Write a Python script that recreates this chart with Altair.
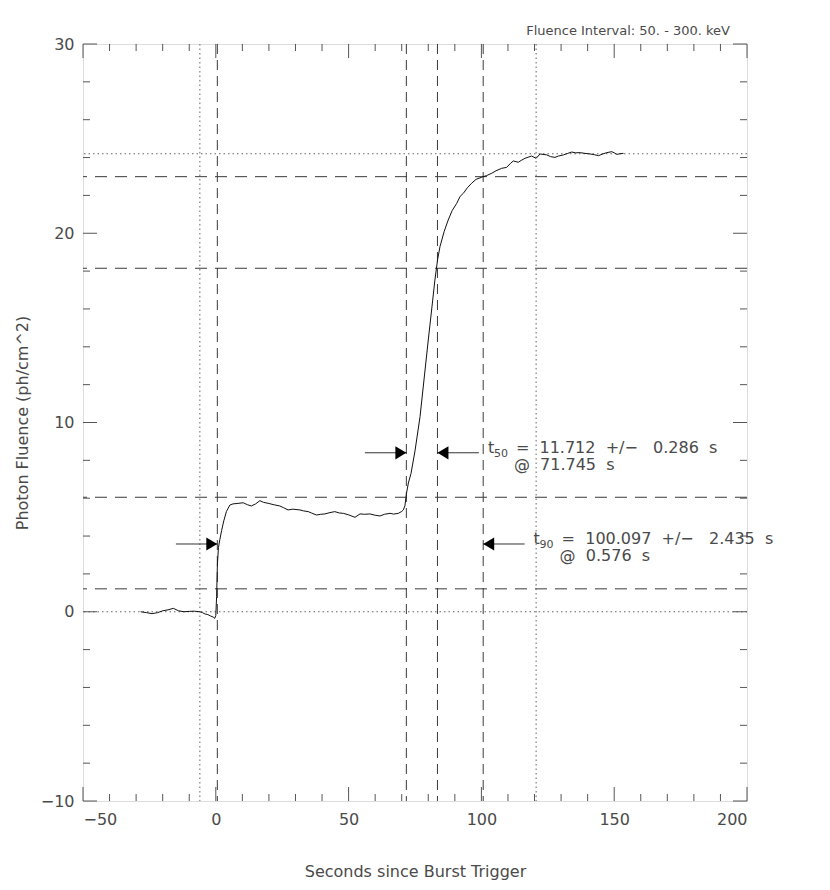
import altair as alt
import pandas as pd

# ---------------- data ----------------
time_s = [-28.3, -26, -24, -22, -20, -18, -16, -14, -12, -10, -8, -6, -5, -4, -3, -2, -1, -0.4,
          0.0, 0.3, 0.6, 1.0, 1.5, 2.2, 3.0, 4.0, 5.3, 6.5, 8, 10.3, 12, 13.4, 15, 16.6, 18, 19.7,
          22, 24.1, 25.5, 27.2, 29, 31.7, 33, 34.8, 36, 37.9, 39.5, 41.1, 43, 44.8, 46.5, 48, 50,
          52.4, 54.3, 56, 58, 60, 61.8, 63.5, 65.6, 67, 68.7, 70.0, 70.6, 71.2, 71.8, 72.5, 73.5,
          75, 76.9, 78.5, 80.0, 81.3, 82.5, 83.5, 84.4, 86, 87.5, 89, 90.7, 92, 93.2, 94.7, 96.3,
          98, 100.1, 102, 103.9, 105.5, 107.6, 109.5, 111, 112, 113.9, 115, 116.4, 118.9, 120.6,
          122.1, 124.6, 126, 127.7, 129, 130.9, 132.5, 134, 135.5, 137.2, 139, 140.9, 142.5,
          144.1, 145.5, 147.2, 149.1, 150, 151, 152.2, 153.5]
fluence = [0.0, -0.05, -0.1, -0.05, 0.05, 0.1, 0.18, 0.05, 0.0, 0.02, 0.03, 0.0, -0.05, -0.12,
           -0.15, -0.22, -0.28, -0.35, -0.2, 0.8, 2.5, 3.4, 3.8, 4.3, 4.8, 5.3, 5.64, 5.7, 5.72,
           5.76, 5.65, 5.59, 5.7, 5.87, 5.78, 5.73, 5.65, 5.59, 5.5, 5.38, 5.42, 5.38, 5.33, 5.29,
           5.22, 5.11, 5.15, 5.17, 5.24, 5.29, 5.22, 5.2, 5.12, 4.99, 5.17, 5.15, 5.17, 5.1, 5.06,
           5.15, 5.2, 5.16, 5.2, 5.3, 5.38, 5.6, 6.26, 6.8, 7.31, 8.5, 10.31, 12.4, 14.36, 16.0,
           17.53, 18.6, 19.29, 20.1, 20.7, 21.2, 21.58, 21.95, 22.11, 22.4, 22.64, 22.85, 22.96,
           23.05, 23.17, 23.3, 23.43, 23.48, 23.7, 23.82, 23.75, 23.85, 23.96, 24.08, 23.96,
           24.19, 24.14, 24.05, 24.01, 24.08, 24.14, 24.22, 24.29, 24.25, 24.26, 24.22, 24.19,
           24.15, 24.1, 24.18, 24.26, 24.31, 24.25, 24.17, 24.2, 24.22]

x_major = [-50, 0, 50, 100, 150, 200]
x_minor = [-40, -30, -20, -10, 10, 20, 30, 40, 60, 70, 80, 90, 110, 120, 130, 140,
           160, 170, 180, 190]
y_major = [-10, 0, 10, 20, 30]
y_minor = [-8, -6, -4, -2, 2, 4, 6, 8, 12, 14, 16, 18, 22, 24, 26, 28]

bg_levels = [0.0, 24.2]                    # dotted horizontal
pct_levels = [1.21, 6.05, 18.15, 22.99]    # dashed horizontal
bg_times = [-6.0, 120.6]                   # dotted vertical
t50_dur, t50_err, t50_start = 11.712, 0.286, 71.745
t90_dur, t90_err, t90_start = 100.097, 2.435, 0.576
interval_edges = [t90_start, t50_start, t50_start + t50_dur, t90_start + t90_dur]  # dashed vertical
arrow_level_t50 = 8.4
arrow_level_t90 = 3.58
arrow_len = 15.6
energy_label = "Fluence Interval: 50. - 300. keV"

# ---------------- styling ----------------
W, H = 664, 757
FONT = "DejaVu Sans"
TXT = "#4a4a4a"
AX = "#555555"
SP = "\u00a0"

XS = alt.Scale(domain=[-50, 200], nice=False, zero=False)
YS = alt.Scale(domain=[-10, 30], nice=False, zero=False)
XAX = alt.Axis(values=x_major, ticks=False, domain=False, grid=False, labelFont=FONT,
               labelFontSize=16, labelColor=TXT, labelPadding=10,
               title="Seconds since Burst Trigger", titleFont=FONT, titleFontSize=16,
               titleFontWeight="normal", titleColor=TXT, titleY=75, titleBaseline="alphabetic")
YAX = alt.Axis(values=y_major, ticks=False, domain=False, grid=False, labelFont=FONT,
               labelFontSize=16, labelColor=TXT, labelPadding=9,
               title="Photon Fluence (ph/cm^2)", titleFont=FONT, titleFontSize=16,
               titleFontWeight="normal", titleColor=TXT, titleX=-61, titleY=H / 2,
               titleAngle=270, titleAlign="center", titleBaseline="middle")


def X(f):
    return alt.X(f, type="quantitative", scale=XS, axis=XAX)


def Y(f):
    return alt.Y(f, type="quantitative", scale=YS, axis=YAX)


curve_df = pd.DataFrame({"t": time_s, "f": fluence})
curve = alt.Chart(curve_df).mark_line(color="#111111", strokeWidth=1).encode(x=X("t"), y=Y("f"))

hdot = alt.Chart(pd.DataFrame({"v": bg_levels})).mark_rule(
    color="#666666", strokeWidth=1, strokeDash=[1.5, 3]).encode(y=Y("v"))
hdash = alt.Chart(pd.DataFrame({"v": pct_levels})).mark_rule(
    color="#3a3a3a", strokeWidth=1, strokeDash=[12, 8]).encode(y=Y("v"))
vdot = alt.Chart(pd.DataFrame({"v": bg_times})).mark_rule(
    color="#666666", strokeWidth=1, strokeDash=[1.5, 3]).encode(x=X("v"))
vdash = alt.Chart(pd.DataFrame({"v": interval_edges})).mark_rule(
    color="#3a3a3a", strokeWidth=1, strokeDash=[10, 6]).encode(x=X("v"))

# inward ticks on all four sides
tick_layers = []
for vals, ln in ((y_major, 14), (y_minor, 7)):
    d = pd.DataFrame({"v": vals})
    tick_layers.append(alt.Chart(d).mark_rule(color=AX).encode(
        y=Y("v"), x=alt.value(0), x2=alt.value(ln)))
    tick_layers.append(alt.Chart(d).mark_rule(color=AX).encode(
        y=Y("v"), x=alt.value(W), x2=alt.value(W - ln)))
for vals, ln in ((x_major, 14), (x_minor, 7)):
    d = pd.DataFrame({"v": vals})
    tick_layers.append(alt.Chart(d).mark_rule(color=AX).encode(
        x=X("v"), y=alt.value(H), y2=alt.value(H - ln)))
    tick_layers.append(alt.Chart(d).mark_rule(color=AX).encode(
        x=X("v"), y=alt.value(0), y2=alt.value(ln)))

# arrows
t50_end = t50_start + t50_dur
t90_end = t90_start + t90_dur
shaft_df = pd.DataFrame({
    "a": [t50_start - arrow_len, t50_end, t90_start - arrow_len, t90_end],
    "b": [t50_start, t50_end + arrow_len, t90_start, t90_end + arrow_len],
    "y": [arrow_level_t50, arrow_level_t50, arrow_level_t90, arrow_level_t90],
})
shafts = alt.Chart(shaft_df).mark_rule(color="#333333", strokeWidth=1).encode(
    x=X("a"), x2="b", y=Y("y"))
right_heads = alt.Chart(pd.DataFrame({"x": [t50_start, t90_start],
                                      "y": [arrow_level_t50, arrow_level_t90]})).mark_point(
    shape="M0,0L-1,-0.6L-1,0.6Z", size=484, filled=True, color="#000000", opacity=1,
    strokeWidth=0).encode(x=X("x"), y=Y("y"))
left_heads = alt.Chart(pd.DataFrame({"x": [t50_end, t90_end],
                                     "y": [arrow_level_t50, arrow_level_t90]})).mark_point(
    shape="M0,0L1,-0.6L1,0.6Z", size=484, filled=True, color="#000000", opacity=1,
    strokeWidth=0).encode(x=X("x"), y=Y("y"))


def fmt_main(d, e):
    return f"={SP*2}{d:.3f}{SP*2}+/\u2212{SP*3}{e:.3f}{SP*2}s"


ann_df = pd.DataFrame({
    "x": [t50_end + arrow_len, t90_end + arrow_len],
    "y": [arrow_level_t50, arrow_level_t90],
    "t": ["t", "t"],
    "sub": ["50", "90"],
    "main": [fmt_main(t50_dur, t50_err), fmt_main(t90_dur, t90_err)],
    "at": [f"@{SP*2}{t50_start:.3f}{SP*2}s", f"@{SP*2}{t90_start:.3f}{SP*2}s"],
})
tbase = alt.Chart(ann_df)
txt_t = tbase.mark_text(align="left", baseline="alphabetic", font=FONT, fontSize=16,
                        color=TXT, dx=9).encode(x=X("x"), y=Y("y"), text="t")
txt_sub = tbase.mark_text(align="left", baseline="alphabetic", font=FONT, fontSize=11,
                          color=TXT, dx=15, dy=4).encode(x=X("x"), y=Y("y"), text="sub")
txt_main = tbase.mark_text(align="left", baseline="alphabetic", font=FONT, fontSize=16,
                           color=TXT, dx=37).encode(x=X("x"), y=Y("y"), text="main")
txt_at = tbase.mark_text(align="left", baseline="alphabetic", font=FONT, fontSize=16,
                         color=TXT, dx=35, dy=17).encode(x=X("x"), y=Y("y"), text="at")

energy = alt.Chart(pd.DataFrame({"s": [energy_label.replace(" ", SP)]})).mark_text(
    align="right", baseline="alphabetic", font=FONT, fontSize=13, color=TXT).encode(
    x=alt.value(W - 17), y=alt.value(-9), text="s")

chart = alt.layer(
    hdot, hdash, vdot, vdash, *tick_layers, curve, shafts, right_heads, left_heads,
    txt_t, txt_sub, txt_main, txt_at, energy
).properties(
    width=W, height=H,
    autosize=alt.AutoSizeParams(type="none"),
    padding={"left": 75, "top": 36, "right": 70, "bottom": 80},
).configure_view(stroke=AX, strokeWidth=1).configure(background="white")

chart.save("out.html", embed_options={"renderer": "svg", "actions": False})
